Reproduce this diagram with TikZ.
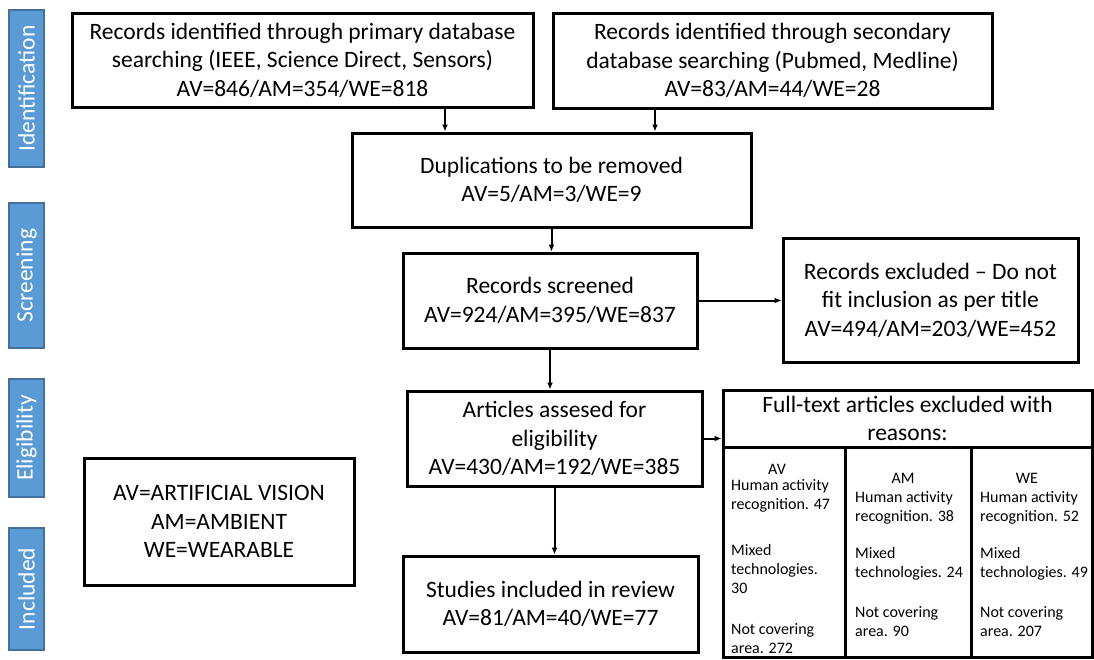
\documentclass[tikz,border=0pt]{standalone}
\usepackage{fontspec}
\setmainfont{Carlito}
\usetikzlibrary{arrows.meta}
\definecolor{tabblue}{HTML}{5B9BD5}
\definecolor{tabedge}{HTML}{41719C}
\tikzset{
  box/.style={draw, line width=3pt, align=center, inner sep=2pt,
    font=\fontsize{23.5}{28.5}\selectfont},
  phase/.style={draw=tabedge, line width=1.2pt, fill=tabblue, text=white,
    rotate=90, minimum height=35pt, inner sep=0pt,
    font=\fontsize{23.5}{28}\selectfont},
  cell/.style={draw, line width=3pt, inner sep=0pt},
  celltxt/.style={font=\fontsize{16}{19}\selectfont, inner sep=0pt, align=left},
  arr/.style={->, line width=2pt},
}

\begin{document}
\begin{tikzpicture}[x=1pt, y=-1pt, >={Latex[length=7pt,width=6pt]}]
\useasboundingbox (0,0) rectangle (1094,659);
% phases on the left
\node[phase, minimum width=157pt] (phid) at (26.5,88.5) {Identification};
\node[phase, minimum width=145pt] (phscr) at (26.5,275.5) {Screening};
\node[phase, minimum width=118pt] (phel) at (26.5,438) {Eligibility};
\node[phase, minimum width=122pt] (phin) at (26.5,589) {Included};

% flow boxes
\node[box, minimum width=461pt, minimum height=94pt] (prim) at (302.5,60)
  {Records identified through primary database\\searching (IEEE, Science Direct, Sensors)\\AV=846/AM=354/WE=818};
\node[box, minimum width=439pt, minimum height=95pt] (sec) at (772.5,60.5)
  {Records identified through secondary\\database searching (Pubmed, Medline)\\AV=83/AM=44/WE=28};
\node[box, minimum width=399pt, minimum height=94pt] (dup) at (551.5,180)
  {Duplications to be removed\\AV=5/AM=3/WE=9};
\node[box, minimum width=294pt, minimum height=95pt] (scr) at (550,300.5)
  {Records screened\\AV=924/AM=395/WE=837};
\node[box, minimum width=295pt, minimum height=124pt] (excl) at (930.5,300)
  {Records excluded -- Do not\\fit inclusion as per title\\AV=494/AM=203/WE=452};
\node[box, minimum width=295pt, minimum height=95pt] (elig) at (554.5,438.5)
  {Articles assesed for\\eligibility\\AV=430/AM=192/WE=385};
\node[box, minimum width=295pt, minimum height=96pt] (incl) at (550.5,604)
  {Studies included in review\\AV=81/AM=40/WE=77};
\node[box, minimum width=270pt, minimum height=127pt] (legend) at (219,521.5)
  {AV=ARTIFICIAL VISION\\AM=AMBIENT\\WE=WEARABLE};

% exclusion table
\node[box, minimum width=369pt, minimum height=57pt] (ft) at (907.5,418.5)
  {Full-text articles excluded with\\reasons:};
\node[cell, minimum width=122pt, minimum height=210pt] (colav) at (784,552) {};
\node[cell, minimum width=126pt, minimum height=210pt] (colam) at (908,552) {};
\node[cell, minimum width=121pt, minimum height=210pt] (colwe) at (1031.5,552) {};
\node[celltxt] (avlbl) at (777,469) {AV};
\node[celltxt] (amlbl) at (903,478) {AM};
\node[celltxt] (welbl) at (1027,478) {WE};
\node[celltxt, anchor=north west] (avtxt) at (731,479)
  {Human activity\\recognition. 47\\[27pt]Mixed\\technologies.\\30\\[22pt]Not covering\\area. 272};
\node[celltxt, anchor=north west] (amtxt) at (855,491)
  {Human activity\\recognition. 38\\[18pt]Mixed\\technologies. 24\\[21pt]Not covering\\area. 90};
\node[celltxt, anchor=north west] (wetxt) at (980,491)
  {Human activity\\recognition. 52\\[18pt]Mixed\\technologies. 49\\[21pt]Not covering\\area. 207};

% connectors
\draw[arr] ([xshift=142.5pt]prim.south) -- ([xshift=142.5pt]prim.south |- dup.north);
\draw[arr] ([xshift=-117.5pt]sec.south) -- ([xshift=-117.5pt]sec.south |- dup.north);
\draw[arr] (dup.south) -- (dup.south |- scr.north);
\draw[arr] (scr.east) -- (scr.east -| excl.west);
\draw[arr] (scr.south) -- (scr.south |- elig.north);
\draw[arr] (elig.east) -- (elig.east -| ft.west);
\draw[arr] (elig.south) -- (elig.south |- incl.north);
\end{tikzpicture}
\end{document}
